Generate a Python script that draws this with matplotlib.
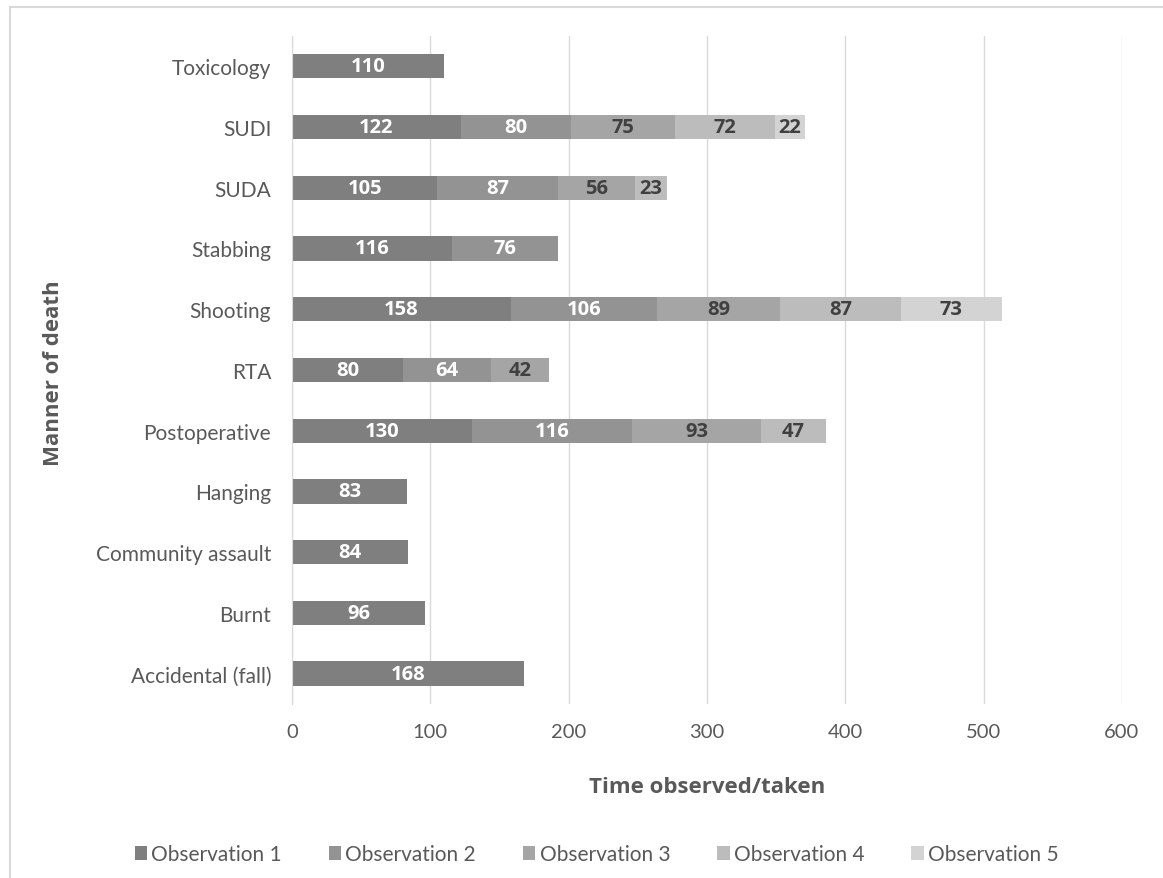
import matplotlib
matplotlib.use("Agg")
import matplotlib.pyplot as plt
from matplotlib.patches import Rectangle
import numpy as np

plt.rcParams['font.family'] = ['Lato', 'DejaVu Sans']

# manner of death, bottom to top
categories = ['Accidental (fall)', 'Burnt', 'Community assault', 'Hanging',
              'Postoperative', 'RTA', 'Shooting', 'Stabbing', 'SUDA', 'SUDI',
              'Toxicology']
series = ['Observation 1', 'Observation 2', 'Observation 3',
          'Observation 4', 'Observation 5']
# time per observation (0 = no observation)
obs1 = [168, 96, 84, 83, 130, 80, 158, 116, 105, 122, 110]
obs2 = [0, 0, 0, 0, 116, 64, 106, 76, 87, 80, 0]
obs3 = [0, 0, 0, 0, 93, 42, 89, 0, 56, 75, 0]
obs4 = [0, 0, 0, 0, 47, 0, 87, 0, 23, 72, 0]
obs5 = [0, 0, 0, 0, 0, 0, 73, 0, 0, 22, 0]
data = [obs1, obs2, obs3, obs4, obs5]

colors = ['#7f7f7f', '#939393', '#a5a5a5', '#bcbcbc', '#d3d3d3']
label_colors = ['white', 'white', '#404040', '#404040', '#404040']
bold_font = ['Open Sans', 'DejaVu Sans']

fig = plt.figure(figsize=(11.63, 8.79), dpi=100)
ax = fig.add_axes([0.2511, 0.198, 0.7136, 0.760])

# outer chart border
fig.patches.append(Rectangle((10 / 1163, -0.01), 1.0, 1 - 8 / 879 + 0.01,
                             transform=fig.transFigure, fill=False,
                             edgecolor='#d9d9d9', linewidth=1.5))

y = np.arange(len(categories))
left = np.zeros(len(categories))
for vals, name, c, lc in zip(data, series, colors, label_colors):
    vals = np.array(vals, dtype=float)
    bars = ax.barh(y, vals, left=left, height=0.4, color=c, label=name,
                   edgecolor='none')
    for b, v in zip(bars, vals):
        if v > 0:
            ax.text(b.get_x() + b.get_width() / 2, b.get_y() + b.get_height() / 2,
                    f'{int(v)}', ha='center', va='center', color=lc,
                    fontsize=14.5, fontweight='bold', family=bold_font)
    left += vals

ax.set_xlim(0, 600)
ax.set_ylim(-0.5, len(categories) - 0.5)
ax.set_xticks(np.arange(0, 601, 100))
ax.set_yticks(y)
ax.set_yticklabels(categories)
ax.xaxis.grid(True, color='#d9d9d9', linewidth=1)
ax.set_axisbelow(True)
for s in ['top', 'right', 'bottom']:
    ax.spines[s].set_visible(False)
ax.spines['left'].set_color('#d9d9d9')
ax.tick_params(axis='both', length=0, colors='#595959')
ax.tick_params(axis='x', pad=14, labelsize=14.5)
ax.tick_params(axis='y', pad=15, labelsize=15)

ax.set_xlabel('Time observed/taken', fontsize=16, fontweight='bold',
              color='#595959', family=bold_font)
ax.set_ylabel('Manner of death', fontsize=16, fontweight='bold',
              color='#595959', family=bold_font)
ax.xaxis.label.set_va('center')
ax.yaxis.label.set_va('center')
ax.xaxis.set_label_coords(0.5, -0.123)
ax.yaxis.set_label_coords(-0.2880, 0.497)

leg = fig.legend(loc='center', bbox_to_anchor=(0.513, 0.027), ncol=5,
                 frameon=False, fontsize=15, handlelength=0.6,
                 handleheight=0.6, handletextpad=0.2, columnspacing=2.25)
for t in leg.get_texts():
    t.set_color('#595959')

fig.savefig('out.png', dpi=100)
